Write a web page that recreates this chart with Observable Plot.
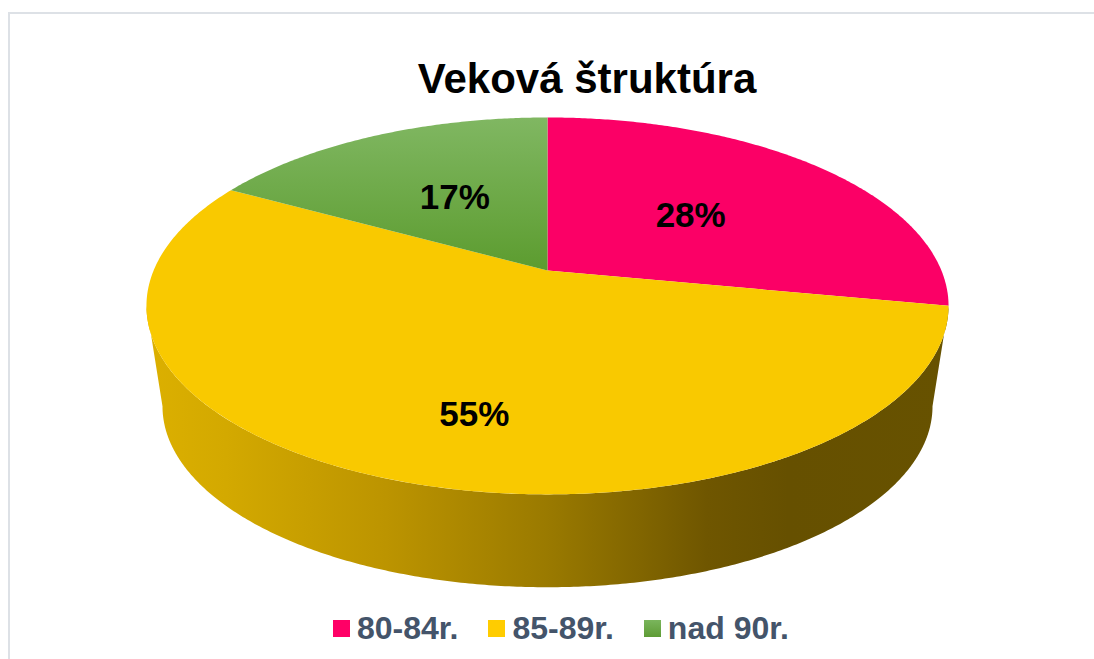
<!DOCTYPE html>
<html>
<head>
<meta charset="utf-8">
<script src="https://cdn.jsdelivr.net/npm/d3@7"></script>
<script src="https://cdn.jsdelivr.net/npm/@observablehq/plot@0.6"></script>
<style>
  html, body { margin: 0; padding: 0; background: #fff; overflow: hidden; }
  #page { width: 1094px; height: 659px; position: relative; overflow: hidden;
          font-family: "Liberation Sans", Arial, sans-serif; }
  #frame { position: absolute; left: 8px; top: 12px; width: 1200px; height: 800px;
           border: 2px solid #dde1e6; box-sizing: border-box; }
  #title { position: absolute; left: 0; width: 1174px; top: 58px; text-align: center;
           font-weight: bold; font-size: 42px; line-height: 42px; color: #000; }
  #chart { position: absolute; left: 0; top: 105px; }
  #legend { position: absolute; left: 333px; top: 612px; display: flex; gap: 30px;
            font-weight: bold; font-size: 32px; line-height: 32px; color: #44546a; }
  .item { display: flex; align-items: center; gap: 7px; }
  .sw { width: 17px; height: 17px; }
</style>
</head>
<body>
<div id="page">
<div id="frame"></div>
<div id="title">Veková štruktúra</div>
<div id="chart"></div>
<div id="legend"></div>
</div>
<script>
// ---- data ----
const categories = ["80-84r.", "85-89r.", "nad 90r."];
const shares = [28, 55, 17];
const labels = ["28%", "55%", "17%"];
const topColors = ["#fb0066", "#f9c900", "url(#greenGrad)"];
const legendColors = ["#ff0066", "#ffcc00", "linear-gradient(#7ab55c, #5e9c35)"];

// ---- geometry (perspective projection of a tilted disc) ----
const p = 0.188;          // perspective strength
const depth = 0.56;       // wall height (in y units)
const kBottom = 0.96;     // bottom disc appears smaller (farther)
const total = d3.sum(shares);
const TAU = 2 * Math.PI;

function proj(theta, r, bottom = false) {
  const u = r * Math.sin(theta), v = -r * Math.cos(theta);
  const w = 1 - p * v;
  if (!bottom) return {x: u / w, y: v / w};
  return {x: kBottom * u / w, y: depth + kBottom * v / w};
}

// slice angles, clockwise from 12 o'clock
let acc = 0;
const slices = categories.map((c, i) => {
  const a0 = acc / total * TAU; acc += shares[i];
  const a1 = acc / total * TAU;
  return {category: c, i, a0, a1};
});

const thetaR = Math.acos(-p);          // rightmost silhouette point
const thetaL = TAU - thetaR;           // leftmost silhouette point

function arc(a0, a1, bottom) {
  const n = Math.max(2, Math.ceil(Math.abs(a1 - a0) / (Math.PI / 360)));
  return d3.range(n + 1).map(k => proj(a0 + (a1 - a0) * k / n, 1, bottom));
}

// top faces
const topPolys = slices.map(s => {
  const pts = [{x: 0, y: 0}, ...arc(s.a0, s.a1, false), {x: 0, y: 0}];
  return pts.map(q => ({...q, i: s.i}));
});

// visible side walls (front part between silhouettes)
const sidePolys = [];
slices.forEach(s => {
  const b0 = Math.max(s.a0, thetaR), b1 = Math.min(s.a1, thetaL);
  if (b1 - b0 > 1e-6) {
    const pts = [...arc(b0, b1, false), ...arc(b1, b0, true)];
    pts.push(pts[0]);
    sidePolys.push(pts.map(q => ({...q, i: s.i})));
  }
});

// labels: mid-angle at half radius, shifted down by half the wall when slice faces front
const labelData = slices.map(s => {
  const mid = (s.a0 + s.a1) / 2;
  const q = proj(mid, 0.5, false);
  const front = mid > thetaR && mid < thetaL;
  return {x: q.x, y: q.y + (front ? depth / 2 : 0), text: labels[s.i]};
});

// ---- scales: vertex at (547, 165) in svg, R=393.9px, S=181.8px per unit ----
const W = 1094, H = 495;
const Rx = 393.9, Sy = 181.8, cx = 547, cy = 165;

const marks = [];
sidePolys.forEach(poly => marks.push(
  Plot.line(poly, {x: "x", y: "y", fill: "url(#sideGrad)", stroke: "none", curve: "linear"})
));
topPolys.forEach((poly, i) => marks.push(
  Plot.line(poly, {x: "x", y: "y", fill: topColors[i], stroke: "none", curve: "linear"})
));
marks.push(Plot.text(labelData, {
  x: "x", y: "y", text: "text", fill: "#000", fontSize: 35, fontWeight: "bold",
  fontFamily: "Liberation Sans, Arial, sans-serif"
}));

const chart = Plot.plot({
  width: W, height: H, margin: 0,
  x: {domain: [-cx / Rx, (W - cx) / Rx], range: [0, W], axis: null},
  y: {domain: [-cy / Sy, (H - cy) / Sy], range: [0, H], axis: null},
  style: {background: "transparent", overflow: "visible"},
  marks
});

// gradients
const svg = d3.select(chart);
const defs = svg.insert("defs", ":first-child");
const sg = defs.append("linearGradient").attr("id", "sideGrad")
  .attr("gradientUnits", "userSpaceOnUse")
  .attr("x1", 145).attr("x2", 948).attr("y1", 0).attr("y2", 0);
[[0, "#dcb000"], [0.1, "#d3a900"], [0.3, "#bc9400"], [0.5, "#9a7a00"],
 [0.7, "#6f5600"], [0.8, "#665000"], [1, "#675200"]]
  .forEach(([o, c]) => sg.append("stop").attr("offset", o).attr("stop-color", c));
const gg = defs.append("linearGradient").attr("id", "greenGrad")
  .attr("x1", 0).attr("x2", 0).attr("y1", 0).attr("y2", 1);
[[0, "#80b762"], [1, "#5c9c2f"]]
  .forEach(([o, c]) => gg.append("stop").attr("offset", o).attr("stop-color", c));

document.getElementById("chart").appendChild(chart);

// legend
const legend = d3.select("#legend");
categories.forEach((c, i) => {
  const it = legend.append("div").attr("class", "item");
  it.append("div").attr("class", "sw").style("background", legendColors[i]);
  it.append("span").text(c);
});
</script>
</body>
</html>
